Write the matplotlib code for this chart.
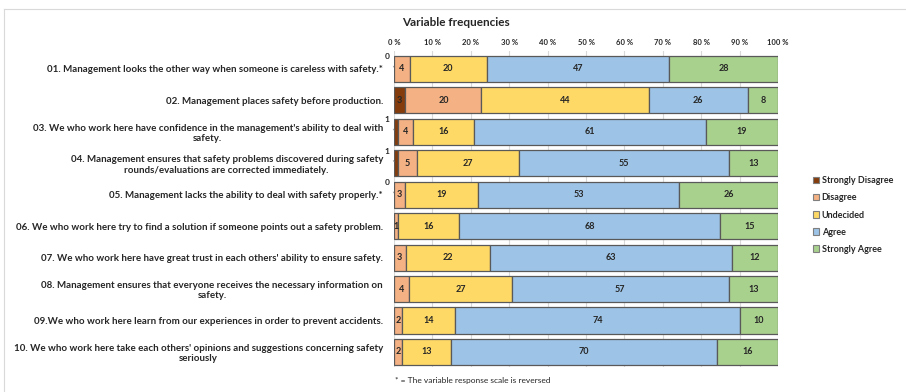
import numpy as np
import matplotlib
matplotlib.use("Agg")
import matplotlib.pyplot as plt
from matplotlib.patches import Patch
from matplotlib.lines import Line2D

plt.rcParams['font.family'] = ['Lato', 'DejaVu Sans']

statements = [
    "01. Management looks the other way when someone is careless with safety.*",
    "02. Management places safety before production.",
    "03. We who work here have confidence in the management's ability to deal with\nsafety.",
    "04. Management ensures that safety problems discovered during safety\nrounds/evaluations are corrected immediately.",
    "05. Management lacks the ability to deal with safety properly.*",
    "06. We who work here try to find a solution if someone points out a safety problem.",
    "07. We who work here have great trust in each others' ability to ensure safety.",
    "08. Management ensures that everyone receives the necessary information on\nsafety.",
    "09.We who work here learn from our experiences in order to prevent accidents.",
    "10. We who work here take each others' opinions and suggestions concerning safety\nseriously",
]
categories = ["Strongly Disagree", "Disagree", "Undecided", "Agree", "Strongly Agree"]
colors = ["#843C0C", "#F4B183", "#FFD966", "#9DC3E6", "#A9D18E"]

# percentages per response category (nan = no answers in that category)
strongly_disagree = [0, 3, 1, 1, 0, np.nan, np.nan, np.nan, np.nan, np.nan]
disagree = [4, 20, 4, 5, 3, 1, 3, 4, 2, 2]
undecided = [20, 44, 16, 27, 19, 16, 22, 27, 14, 13]
agree = [47, 26, 61, 55, 53, 68, 63, 57, 74, 70]
strongly_agree = [28, 8, 19, 13, 26, 15, 12, 13, 10, 16]

ticks = list(range(0, 101, 10))
tick_labels = [f"{t} %" for t in ticks]

series = np.array([strongly_disagree, disagree, undecided, agree, strongly_agree], dtype=float)
totals = np.nansum(series, axis=0)
shares = np.nan_to_num(series) / totals * 100   # 100% stacked, like the spreadsheet chart

fig = plt.figure(figsize=(9.06, 3.92), dpi=100)
ax = fig.add_axes([0.4349, 0.0638, 0.4238, 0.8061])

y = np.arange(len(statements))
left = np.zeros(len(statements))
text_color = "#262626"
for k, (name, col) in enumerate(zip(categories, colors)):
    has = ~np.isnan(series[k])
    ax.barh(y[has], shares[k][has], left=left[has], height=0.83, color=col,
            edgecolor="#595959", linewidth=0.9, zorder=3)
    for i in np.where(has)[0]:
        val = series[k][i]
        cx = left[i] + shares[k][i] / 2
        if k == 0 and val < 2:
            # tiny slice: label sits outside with a leader line
            ax.annotate(f"{val:.0f}", xy=(left[i], y[i] - 0.05), xytext=(-5, 7.5),
                        textcoords="offset points", ha="center", va="center",
                        fontsize=6, fontweight="bold", color=text_color,
                        arrowprops=dict(arrowstyle="-", color="#8C8C8C", lw=0.5,
                                        shrinkA=2.5, shrinkB=0))
        else:
            ax.text(cx, y[i], f"{val:.0f}", ha="center", va="center", fontsize=6.5,
                    fontweight="bold", color=text_color, zorder=4)
    left += shares[k]

ax.set_xlim(0, 100)
ax.set_ylim(9.48, -0.57)
ax.set_xticks(ticks)
ax.set_xticklabels(tick_labels, fontsize=5.5, fontweight="bold", color=text_color)
ax.xaxis.tick_top()
ax.tick_params(axis="x", length=0, pad=3.5)
ax.set_yticks(y)
ax.set_yticklabels(statements, fontsize=7, fontweight="bold", color=text_color,
                   multialignment="center")
ax.tick_params(axis="y", length=0, pad=8)
ax.grid(axis="x", color="#D9D9D9", lw=0.8, zorder=0)
for s in ax.spines.values():
    s.set_visible(False)

fig.text(402 / 906, 1 - 22 / 392, "Variable frequencies", fontsize=8.5, fontweight="bold",
         color=text_color, ha="left", va="center")
fig.text(395 / 906, 1 - 381 / 392, "* = The variable response scale is reversed",
         fontsize=6, color=text_color, ha="left", va="center")

handles = [Patch(facecolor=c, edgecolor="#7F7F7F", linewidth=0.8) for c in colors]
leg = fig.legend(handles, categories, loc="center left", bbox_to_anchor=(809 / 906, 1 - 215 / 392),
                 frameon=False, fontsize=6.5, handlelength=0.7, handleheight=0.7,
                 handletextpad=0.3, labelspacing=0.9, borderaxespad=0)
for t in leg.get_texts():
    t.set_fontweight("bold")
    t.set_color(text_color)

# thin frame of the chart area
fig.add_artist(Line2D([4 / 906, 1], [1 - 9 / 392] * 2, color="#D9D9D9", lw=0.8))
fig.add_artist(Line2D([4 / 906] * 2, [0, 1 - 9 / 392], color="#D9D9D9", lw=0.8))

fig.savefig("out.png", dpi=100)
